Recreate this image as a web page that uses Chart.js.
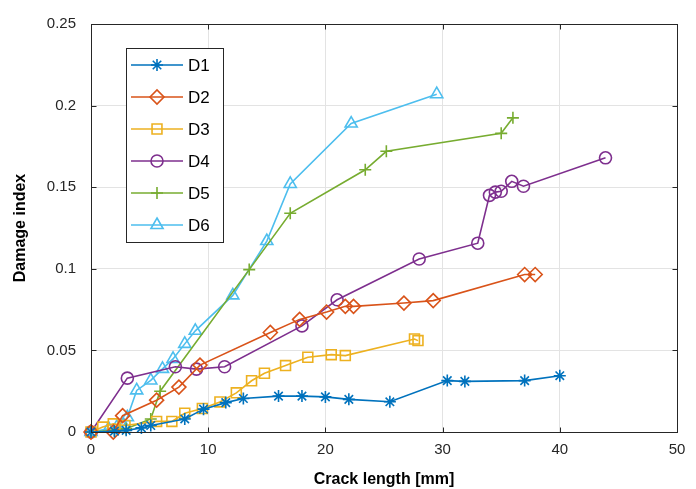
<!DOCTYPE html>
<html>
<head>
<meta charset="utf-8">
<script src="https://cdn.jsdelivr.net/npm/chart.js@4.4.0/dist/chart.umd.min.js"></script>
<style>
  html, body { margin: 0; padding: 0; background: #fff; }
  #wrap { width: 696px; height: 489px; }
</style>
</head>
<body>
<div id="wrap"><canvas id="damageChart" width="696" height="489"></canvas></div>
<script>
// crack length [mm] and damage index for each specimen
const d1x = [0, 2.0, 3.0, 4.3, 5.1, 8.0, 9.6, 11.5, 13.0, 16.0, 18.0, 20.0, 22.0, 25.5, 30.4, 31.9, 37.0, 40.0];
const d1y = [0, 0.0005, 0.001, 0.0025, 0.004, 0.008, 0.014, 0.018, 0.0205, 0.022, 0.022, 0.0215, 0.020, 0.0185, 0.0315, 0.031, 0.0315, 0.0345];

const d2x = [0, 1.9, 2.7, 5.6, 7.5, 9.3, 15.3, 17.8, 20.1, 21.7, 22.4, 26.7, 29.2, 37.0, 37.9];
const d2y = [0, 0, 0.010, 0.0195, 0.0275, 0.041, 0.061, 0.069, 0.0735, 0.077, 0.077, 0.079, 0.0805, 0.0965, 0.0965];

const d3x = [0, 1.0, 1.9, 2.9, 5.6, 6.9, 8.0, 9.5, 11.0, 12.4, 13.7, 14.8, 16.6, 18.5, 20.5, 21.7, 27.6, 27.9];
const d3y = [0, 0.003, 0.005, 0.004, 0.0065, 0.0065, 0.0115, 0.0144, 0.0184, 0.024, 0.0314, 0.036, 0.0407, 0.0458, 0.0474, 0.0468, 0.057, 0.056];

const d4x = [0, 3.1, 7.2, 9.0, 11.4, 18.0, 21.0, 28.0, 33.0, 34.0, 34.5, 35.0, 35.9, 36.9, 43.9];
const d4y = [0, 0.033, 0.040, 0.0385, 0.040, 0.065, 0.081, 0.106, 0.1157, 0.145, 0.147, 0.1475, 0.1536, 0.1506, 0.168];

const d5x = [0, 2.0, 3.0, 5.1, 5.9, 13.5, 17.0, 23.4, 25.2, 35.0, 36.0];
const d5y = [0, 0.001, 0.002, 0.008, 0.025, 0.0995, 0.134, 0.1607, 0.172, 0.183, 0.1925];

const d6x = [0, 1.5, 2.2, 2.8, 3.1, 3.9, 5.1, 6.1, 7.0, 8.0, 8.9, 12.1, 15.0, 17.0, 22.2, 29.5];
const d6y = [0, 0.002, 0.003, 0.004, 0.009, 0.0255, 0.0316, 0.0387, 0.0448, 0.054, 0.062, 0.0837, 0.117, 0.152, 0.189, 0.207];

const seriesNames = ['D1', 'D2', 'D3', 'D4', 'D5', 'D6'];
const xTicks = [0, 10, 20, 30, 40, 50];
const yTicks = [0, 0.05, 0.1, 0.15, 0.2, 0.25];

const axisColor = '#262626';

function pts(xs, ys) {
    return xs.map((x, i) => ({ x: x, y: ys[i] }));
}

function series(label, xs, ys, color, style, radius) {
    return {
        label: label,
        data: pts(xs, ys),
        borderColor: color,
        backgroundColor: 'rgba(0,0,0,0)',
        borderWidth: 1.6,
        pointStyle: style,
        pointRadius: radius,
        pointBorderWidth: 1.6,
        pointBorderColor: color,
        pointBackgroundColor: 'rgba(0,0,0,0)',
        pointHoverRadius: radius,
        tension: 0,
        fill: false,
        clip: false
    };
}

// box, inward ticks and legend (MATLAB look)
const frame = {
    id: 'frame',
    afterDraw(chart) {
        const ctx = chart.ctx;
        const a = chart.chartArea;
        const xs = chart.scales.x, ys = chart.scales.y;
        ctx.save();
        ctx.strokeStyle = axisColor;
        ctx.lineWidth = 1;
        const L = Math.round(a.left) + 0.5, R = Math.round(a.right) + 0.5;
        const T = Math.round(a.top) + 0.5, B = Math.round(a.bottom) + 0.5;
        ctx.strokeRect(L, T, R - L, B - T);
        ctx.beginPath();
        xTicks.forEach(v => {
            const p = Math.round(xs.getPixelForValue(v)) + 0.5;
            ctx.moveTo(p, B); ctx.lineTo(p, B - 5);
            ctx.moveTo(p, T); ctx.lineTo(p, T + 5);
        });
        yTicks.forEach(v => {
            const p = Math.round(ys.getPixelForValue(v)) + 0.5;
            ctx.moveTo(L, p); ctx.lineTo(L + 5, p);
            ctx.moveTo(R, p); ctx.lineTo(R - 5, p);
        });
        ctx.stroke();

        // legend
        const bx = 126.5, by = 48.5, bw = 97, bh = 194;
        ctx.fillStyle = '#fff';
        ctx.fillRect(bx, by, bw, bh);
        ctx.strokeStyle = axisColor;
        ctx.strokeRect(bx, by, bw, bh);
        chart.data.datasets.forEach((ds, i) => {
            const yy = 65 + i * 32;
            ctx.strokeStyle = ds.borderColor;
            ctx.fillStyle = 'rgba(0,0,0,0)';
            ctx.lineWidth = 1.6;
            ctx.beginPath();
            ctx.moveTo(131, yy); ctx.lineTo(183, yy);
            ctx.stroke();
            Chart.helpers.drawPoint(ctx, {
                pointStyle: ds.pointStyle,
                radius: ds.pointRadius,
                borderWidth: 1.6
            }, 157, yy);
            ctx.fillStyle = '#000';
            ctx.font = '17px "Liberation Sans", Arial, sans-serif';
            ctx.textBaseline = 'middle';
            ctx.textAlign = 'left';
            ctx.fillText(ds.label, 188, yy + 1);
        });
        ctx.restore();
    }
};

const tickFont = { family: '"Liberation Sans", Arial, sans-serif', size: 15 };
const titleFont = { family: '"Liberation Sans", Arial, sans-serif', size: 16, weight: 'bold' };

new Chart(document.getElementById('damageChart'), {
    type: 'line',
    data: {
        datasets: [
            series(seriesNames[0], d1x, d1y, '#0072BD', 'star', 6),
            series(seriesNames[1], d2x, d2y, '#D95319', 'rectRot', 7),
            series(seriesNames[2], d3x, d3y, '#EDB120', 'rect', 7),
            series(seriesNames[3], d4x, d4y, '#7E2F8E', 'circle', 6),
            series(seriesNames[4], d5x, d5y, '#77AC30', 'cross', 6),
            series(seriesNames[5], d6x, d6y, '#4DBEEE', 'triangle', 7)
        ]
    },
    options: {
        responsive: false,
        animation: false,
        layout: { padding: { top: 21, right: 19, left: 0, bottom: 0 } },
        plugins: {
            legend: { display: false },
            tooltip: { enabled: false }
        },
        scales: {
            x: {
                type: 'linear',
                min: 0,
                max: 50,
                afterBuildTicks: s => { s.ticks = xTicks.map(v => ({ value: v })); },
                afterFit: s => { s.height = 57; },
                grid: { color: '#e3e3e3', drawTicks: false },
                border: { display: false },
                ticks: { color: axisColor, font: tickFont, padding: 9 },
                title: {
                    display: true,
                    text: 'Crack length [mm]',
                    color: '#000',
                    font: titleFont,
                    padding: { top: 0, bottom: 0 }
                }
            },
            y: {
                type: 'linear',
                min: 0,
                max: 0.25,
                afterBuildTicks: s => { s.ticks = yTicks.map(v => ({ value: v })); },
                afterFit: s => { s.width = 91; },
                grid: { color: '#e3e3e3', drawTicks: false },
                border: { display: false },
                ticks: {
                    color: axisColor,
                    font: tickFont,
                    padding: 15,
                    callback: v => String(Number(v.toFixed(2)))
                },
                title: {
                    display: true,
                    text: 'Damage index',
                    color: '#000',
                    font: titleFont,
                    padding: { top: 11, bottom: 0 }
                }
            }
        }
    },
    plugins: [frame]
});
</script>
</body>
</html>
